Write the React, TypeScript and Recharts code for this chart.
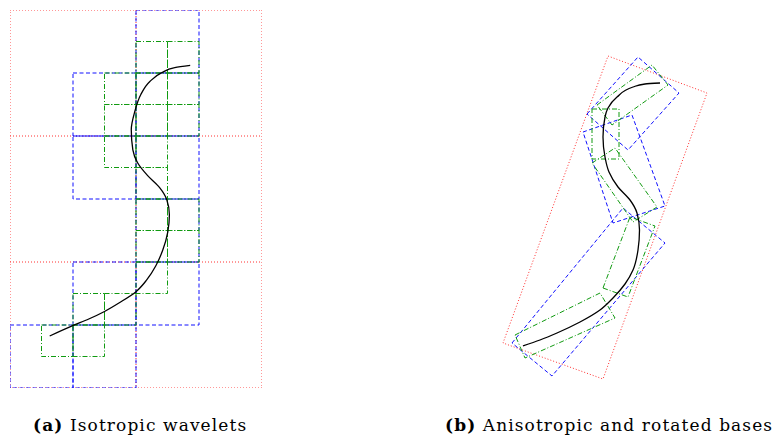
import React from "react";
import { LineChart, Line, XAxis, YAxis } from "recharts";

// panel (a): grid units, one unit = smallest (green) cell
const redGridA = [
  [[0, 0], [8, 0], [8, 12], [0, 12], [0, 0]],
  [[4, 0], [4, 12]],
  [[0, 4], [8, 4]],
  [[0, 8], [8, 8]],
];
const blueCellsA = [[4, 0], [2, 2], [4, 2], [2, 4], [4, 4], [4, 6], [2, 8], [4, 8], [0, 10], [2, 10]];
const greenCellsA = [
  [4, 1], [5, 1],
  [3, 2], [4, 2], [5, 2],
  [3, 3], [4, 3], [5, 3],
  [3, 4], [4, 4],
  [4, 5],
  [4, 6], [5, 6],
  [4, 7], [5, 7],
  [4, 8],
  [2, 9], [3, 9],
  [1, 10], [2, 10],
];
const curveA = [
  [5.72, 1.76], [5.23, 1.83], [4.82, 1.99], [4.44, 2.27], [4.15, 2.69], [3.96, 3.23],
  [3.85, 3.8], [3.9, 4.44], [4.05, 4.85], [4.37, 5.26], [4.75, 5.64], [4.98, 6.03],
  [5.06, 6.5], [5.01, 7.04], [4.85, 7.62], [4.63, 8.12], [4.34, 8.57], [3.99, 8.95],
  [3.51, 9.27], [3.0, 9.57], [2.5, 9.81], [1.99, 10.02], [1.26, 10.35],
];

// panel (b): local plane, corners of the rotated boxes
const redBoxB = [[128, 16], [227, 53], [123, 339], [23, 303]];
const blueBoxesB = [
  [[107, 74], [158, 17], [199, 53], [148, 110]],
  [[103, 92], [152, 75], [185, 166], [133, 183]],
  [[32, 303], [143, 168], [185, 203], [72, 336]],
];
const greenBoxesB = [
  [[117, 65], [172, 25], [188, 45], [132, 85]],
  [[112, 69], [139, 69], [139, 119], [112, 119]],
  [[112, 123], [135, 108], [177, 167], [153, 182]],
  [[35, 295], [120, 253], [135, 278], [45, 318]],
  [[123, 248], [150, 177], [175, 186], [148, 257]],
];
const curveB = [
  [180, 43], [165, 44], [153, 47], [137, 57], [128, 68], [125, 77], [123, 97],
  [125, 117], [129, 132], [138, 147], [150, 160], [157, 173], [159.5, 190],
  [158, 210], [153, 230], [145, 244], [133, 258], [120, 270], [100, 282],
  [77, 293], [60, 300], [43, 306],
];

const captionA = ["(a)", "Isotropic wavelets"];
const captionB = ["(b)", "Anisotropic and rotated bases"];

const RED = { stroke: "#ff3030", strokeDasharray: "1 2", strokeWidth: 1 };
const BLUE = { stroke: "#1010ff", strokeDasharray: "4 2.5", strokeWidth: 1 };
const GREEN = { stroke: "#109a10", strokeDasharray: "5 2 1 2", strokeWidth: 1 };

const pts = (arr: number[][]) => arr.map(([x, y]) => ({ x, y }));
const closed = (arr: number[][]) => pts([...arr, arr[0]]);
const cell = ([x, y]: number[], s: number) =>
  closed([[x, y], [x + s, y], [x + s, y + s], [x, y + s]]);

type Shape = { data: { x: number; y: number }[]; style: any; curve?: boolean };

const Panel = ({ width, height, margin, xDomain, yDomain, shapes }: any) => (
  <LineChart width={width} height={height} margin={margin}>
    <XAxis type="number" dataKey="x" domain={xDomain} allowDataOverflow hide />
    <YAxis type="number" dataKey="y" domain={yDomain} allowDataOverflow reversed hide />
    {shapes.map((s: Shape, i: number) => (
      <Line
        key={i}
        data={s.data}
        dataKey="y"
        type={s.curve ? "monotoneY" : "linear"}
        dot={false}
        activeDot={false}
        isAnimationActive={false}
        strokeLinecap="butt"
        {...s.style}
      />
    ))}
  </LineChart>
);

const shapesA: Shape[] = [
  ...redGridA.map((l) => ({ data: pts(l), style: RED })),
  ...blueCellsA.map((c) => ({ data: cell(c, 2), style: BLUE })),
  ...greenCellsA.map((c) => ({ data: cell(c, 1), style: GREEN })),
  { data: pts(curveA), style: { stroke: "#000", strokeWidth: 1.3 }, curve: true },
];

const shapesB: Shape[] = [
  { data: closed(redBoxB), style: RED },
  ...blueBoxesB.map((b) => ({ data: closed(b), style: BLUE })),
  ...greenBoxesB.map((b) => ({ data: closed(b), style: GREEN })),
  { data: pts(curveB), style: { stroke: "#000", strokeWidth: 1.3 }, curve: true },
];

const capStyle: React.CSSProperties = {
  position: "absolute",
  top: 415,
  fontFamily: "'DejaVu Serif', serif",
  fontSize: 17,
  letterSpacing: 1.1,
  whiteSpace: "nowrap",
  color: "#000",
};

export default function App() {
  return (
    <div style={{ position: "absolute", left: 0, top: 0, width: 779, height: 439, background: "#fff" }}>
      <div style={{ position: "absolute", left: 0, top: 0 }}>
        <Panel
          width={272}
          height={398}
          margin={{ top: 10, right: 10, bottom: 10, left: 10 }}
          xDomain={[0, 8]}
          yDomain={[0, 12]}
          shapes={shapesA}
        />
      </div>
      <div style={{ position: "absolute", left: 480, top: 40 }}>
        <Panel
          width={240}
          height={355}
          margin={{ top: 0, right: 0, bottom: 0, left: 0 }}
          xDomain={[0, 240]}
          yDomain={[0, 355]}
          shapes={shapesB}
        />
      </div>
      <div style={{ ...capStyle, left: 33 }}>
        <b>{captionA[0]}</b> {captionA[1]}
      </div>
      <div style={{ ...capStyle, left: 445 }}>
        <b>{captionB[0]}</b> {captionB[1]}
      </div>
    </div>
  );
}
